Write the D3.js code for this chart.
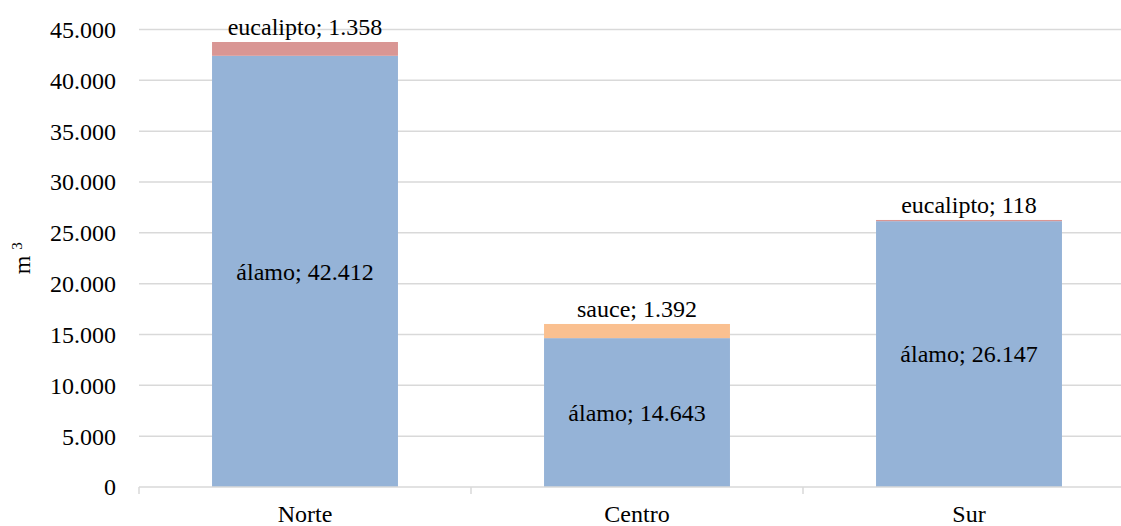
<!DOCTYPE html>
<html>
<head>
<meta charset="utf-8">
<script src="https://cdn.jsdelivr.net/npm/d3@7"></script>
<style>
	body { margin: 0; background: #fff; }
	text { font-family: "Liberation Serif", "DejaVu Serif", serif; fill: #000; }
</style>
</head>
<body>
<div id="grafic"></div>
<script>
// dades
var zones = ['Norte', 'Centro', 'Sur'];
var alamo = [42412, 14643, 26147];
var altres = [1358, 1392, 118];
var altresNom = ['eucalipto', 'sauce', 'eucalipto'];
var ticsY = [0, 5000, 10000, 15000, 20000, 25000, 30000, 35000, 40000, 45000];

var Amplada = 1121;
var Alçada = 526;
var marge = {dalt: 29.5, dreta: -14, baix: 39, esquerra: 139};

var colors = {alamo: '#95b3d7', eucalipto: '#d99694', sauce: '#fac090'};

var llenç = d3.select('#grafic')
	.append('svg')
		.attr('width', Amplada)
		.attr('height', Alçada);

var x = d3.scaleBand()
	.domain(zones)
	.range([marge.esquerra, Amplada - marge.dreta])
	.paddingInner(0.44)
	.paddingOuter(0.22);

var y = d3.scaleLinear()
	.domain([0, 45000])
	.range([Alçada - marge.baix, marge.dalt]);

var fmt = d3.formatLocale({decimal: ',', thousands: '.', grouping: [3], currency: ['', '']}).format(',d');

// graella
llenç.append('g')
	.selectAll('line')
	.data(ticsY.slice(1))
	.enter()
	.append('line')
		.attr('x1', marge.esquerra)
		.attr('x2', Amplada)
		.attr('y1', d => y(d))
		.attr('y2', d => y(d))
		.attr('stroke', '#d9d9d9')
		.attr('stroke-width', 1.5);

// eix y
llenç.append('g')
	.selectAll('text')
	.data(ticsY)
	.enter()
	.append('text')
		.attr('x', 116)
		.attr('y', d => y(d))
		.attr('dy', '0.35em')
		.attr('text-anchor', 'end')
		.style('font-size', '24px')
		.text(d => fmt(d));

var titol = llenç.append('text')
	.attr('transform', `translate(30,${y(22500)}) rotate(-90)`)
	.attr('text-anchor', 'middle')
	.style('font-size', '24px');
titol.append('tspan').text('m ');
titol.append('tspan').style('font-size', '15px').attr('dy', '-8').text('3');

// barres
var files = zones.map((z, i) => ({zona: z, a: alamo[i], b: altres[i], nom: altresNom[i]}));

var barres = llenç.append('g')
	.selectAll('g')
	.data(files)
	.enter()
	.append('g');

barres.append('rect')
	.attr('x', d => x(d.zona))
	.attr('width', x.bandwidth())
	.attr('y', d => y(d.a))
	.attr('height', d => y(0) - y(d.a))
	.attr('fill', colors.alamo);

barres.append('rect')
	.attr('x', d => x(d.zona))
	.attr('width', x.bandwidth())
	.attr('y', d => y(d.a + d.b))
	.attr('height', d => y(d.a) - y(d.a + d.b))
	.attr('fill', d => colors[d.nom]);

barres.append('text')
	.attr('x', d => x(d.zona) + x.bandwidth() / 2)
	.attr('y', d => y(d.a / 2))
	.attr('dy', '0.35em')
	.attr('text-anchor', 'middle')
	.style('font-size', '24px')
	.text(d => 'álamo; ' + fmt(d.a));

barres.append('text')
	.attr('x', d => x(d.zona) + x.bandwidth() / 2)
	.attr('y', d => y(d.a + d.b) - 7)
	.attr('text-anchor', 'middle')
	.style('font-size', '24px')
	.text(d => d.nom + '; ' + fmt(d.b));

// eix x
var eixX = llenç.append('g');
eixX.append('line')
	.attr('x1', marge.esquerra)
	.attr('x2', Amplada)
	.attr('y1', y(0))
	.attr('y2', y(0))
	.attr('stroke', '#d9d9d9')
	.attr('stroke-width', 1.5);

var vores = zones.map(z => x(z) - x.step() * x.paddingInner() / 2);
vores.push(Amplada - marge.dreta);
vores[0] = marge.esquerra;
eixX.selectAll('line.tic')
	.data(vores)
	.enter()
	.append('line')
		.attr('class', 'tic')
		.attr('x1', d => d)
		.attr('x2', d => d)
		.attr('y1', y(0))
		.attr('y2', y(0) + 7)
		.attr('stroke', '#d9d9d9')
		.attr('stroke-width', 1.5);

eixX.selectAll('text')
	.data(zones)
	.enter()
	.append('text')
		.attr('x', d => x(d) + x.bandwidth() / 2)
		.attr('y', 522)
		.attr('text-anchor', 'middle')
		.style('font-size', '24px')
		.text(d => d);
</script>
</body>
</html>
